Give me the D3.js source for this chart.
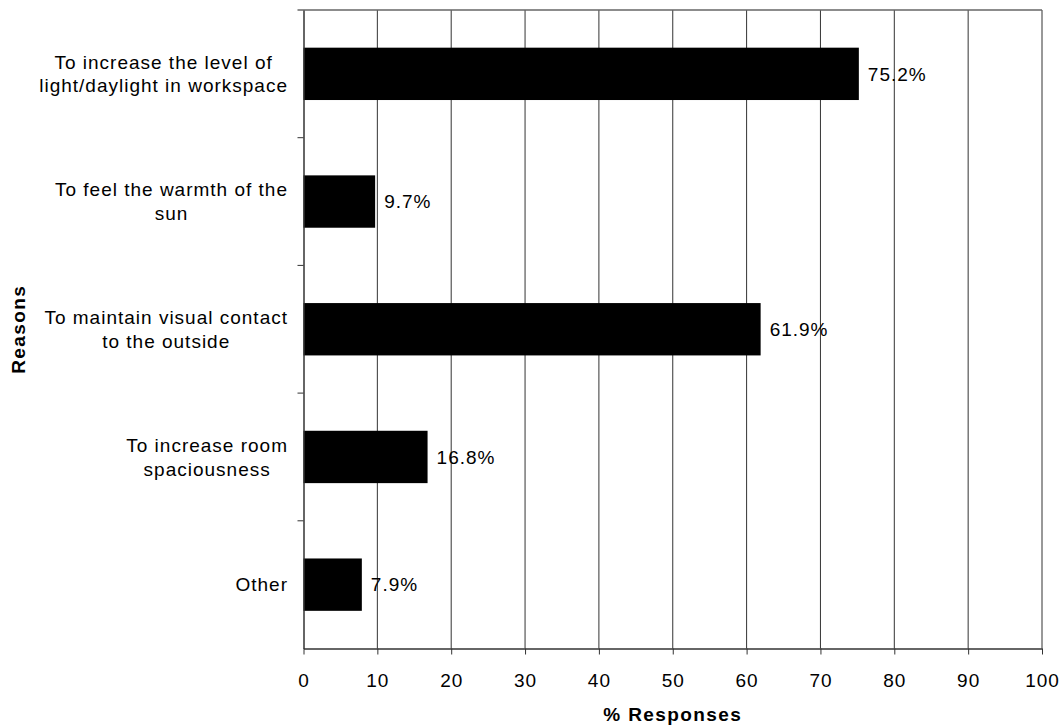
<!DOCTYPE html>
<html><head><meta charset="utf-8">
<script src="https://cdn.jsdelivr.net/npm/d3@7"></script>
<style>body{margin:0;background:#fff}svg{display:block}text{font-family:"Liberation Sans",Arial,sans-serif;fill:#000}</style>
</head><body><svg id="c" width="1064" height="728"></svg>
<script>
const categories = [
  ["To increase the level of", "light/daylight in workspace"],
  ["To feel the warmth of the", "sun"],
  ["To maintain visual contact", "to the outside"],
  ["To increase room", "spaciousness"],
  ["Other"]
];
const values = [75.2, 9.7, 61.9, 16.8, 7.9];
const xTicks = [0,10,20,30,40,50,60,70,80,90,100];
const xTitle = "% Responses";
const yTitle = "Reasons";

const FS = 19, LS = "1px";
const svg = d3.select("#c");
const m = {left:303.5, right:1042, top:10, bottom:648.5};
const x = d3.scaleLinear().domain([0,100]).range([m.left, m.right]);
const y = d3.scaleBand().domain(d3.range(categories.length)).range([m.top, m.bottom]).paddingInner(0.59).paddingOuter(0.295);
const yb = d3.scaleBand().domain(d3.range(categories.length)).range([m.top, m.bottom]);

// gridlines
svg.append("g").selectAll("line").data(xTicks.slice(1)).join("line")
  .attr("x1", d=>x(d)).attr("x2", d=>x(d)).attr("y1", m.top).attr("y2", m.bottom)
  .attr("stroke", "#333").attr("stroke-width", 1);
// top border
svg.append("line").attr("x1", m.left-6).attr("x2", m.right).attr("y1", m.top).attr("y2", m.top).attr("stroke","#666").attr("stroke-width",1.3);

// bars
svg.append("g").selectAll("rect").data(values).join("rect")
  .attr("x", x(0)).attr("y", (d,i)=>y(i)).attr("width", d=>x(d)-x(0)).attr("height", y.bandwidth())
  .attr("fill","#000");

// value labels
svg.append("g").selectAll("text").data(values).join("text")
  .attr("x", d=>x(d)+9).attr("y", (d,i)=>y(i)+y.bandwidth()/2).attr("dy","0.35em")
  .attr("font-size", FS).attr("letter-spacing", LS).text(d=>d.toFixed(1)+"%");

// x axis
const xa = svg.append("g").attr("transform", `translate(0,${m.bottom})`)
  .call(d3.axisBottom(x).tickValues(xTicks).tickSize(6).tickPadding(19).tickSizeOuter(0));
xa.select(".domain").attr("stroke","#333").attr("stroke-width",1.5);
xa.selectAll(".tick line").attr("stroke","#333");
xa.selectAll("text").attr("font-size",FS).attr("letter-spacing",LS).attr("font-family",'"Liberation Sans",Arial,sans-serif');

// y axis
const ya = svg.append("g").attr("transform", `translate(${m.left},0)`)
  .call(d3.axisLeft(yb).tickValues([]).tickSize(0).tickSizeOuter(0));
ya.select(".domain").attr("stroke","#333").attr("stroke-width",1.5);
svg.append("g").selectAll("line").data(d3.range(1,categories.length)).join("line")
  .attr("x1", m.left-6).attr("x2", m.left).attr("y1", d=>yb(d)).attr("y2", d=>yb(d)).attr("stroke","#333");

// category labels: block right-aligned to axis, lines centered within block
const cl = svg.append("g").selectAll("text").data(categories).join("text")
  .attr("text-anchor","middle").attr("font-size",FS).attr("letter-spacing",LS);
cl.each(function(d,i){
  const t = d3.select(this);
  const n = d.length;
  d.forEach((line,j)=>{
    t.append("tspan").attr("x",0).attr("y", (j-(n-1)/2)*24).attr("dy","0.35em").text(line);
  });
  const w = this.getBBox().width;
  t.attr("transform", `translate(${288 - w/2},${yb(i)+yb.bandwidth()/2})`);
});

// titles
svg.append("text").attr("x", (m.left+m.right)/2).attr("y", 721).attr("text-anchor","middle")
  .attr("font-size",FS).attr("font-weight","bold").attr("letter-spacing","1.4px").text(xTitle);
svg.append("text").attr("transform", `translate(25,${(m.top+m.bottom)/2}) rotate(-90)`).attr("text-anchor","middle")
  .attr("font-size",FS).attr("font-weight","bold").attr("letter-spacing","1.4px").text(yTitle);
</script></body></html>
